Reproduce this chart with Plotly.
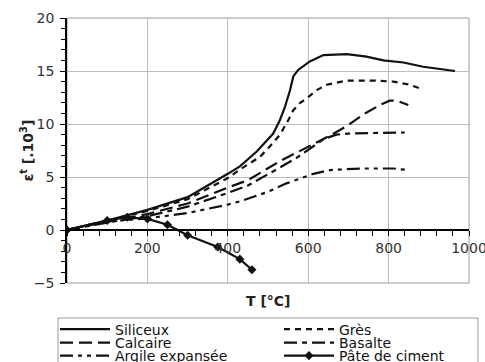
import plotly.graph_objects as go

# ---- data ----
t_siliceux = [0, 100, 200, 300, 400, 430, 472, 513, 530, 542, 555, 563, 575, 604, 638, 696, 745, 787, 837, 886, 965]
e_siliceux = [0, 0.9, 1.9, 3.1, 5.3, 6.0, 7.4, 9.1, 10.4, 11.6, 13.2, 14.5, 15.1, 15.9, 16.5, 16.6, 16.35, 16.0, 15.8, 15.4, 15.0]

t_gres = [0, 100, 200, 300, 400, 430, 480, 505, 530, 551, 563, 580, 596, 621, 646, 696, 762, 812, 853, 882]
e_gres = [0, 0.9, 1.8, 2.9, 4.9, 5.7, 6.9, 7.9, 9.0, 10.4, 11.3, 12.0, 12.4, 13.2, 13.7, 14.1, 14.1, 14.0, 13.7, 13.3]

t_calcaire = [0, 100, 200, 300, 400, 450, 530, 571, 613, 654, 696, 737, 779, 803, 820, 849]
e_calcaire = [0, 0.8, 1.5, 2.5, 4.0, 4.7, 6.5, 7.3, 8.1, 8.9, 9.8, 10.9, 11.8, 12.2, 12.2, 11.8]

t_basalte = [0, 100, 200, 300, 400, 450, 530, 571, 613, 640, 670, 700, 760, 820, 840]
e_basalte = [0, 0.7, 1.3, 2.2, 3.5, 4.2, 5.9, 6.8, 7.9, 8.6, 9.0, 9.1, 9.15, 9.2, 9.2]

t_argile = [0, 100, 200, 300, 400, 430, 500, 546, 613, 654, 729, 812, 850]
e_argile = [0, 0.8, 1.1, 1.6, 2.4, 2.7, 3.6, 4.4, 5.3, 5.65, 5.8, 5.8, 5.65]

t_pate = [0, 100, 150, 200, 250, 300, 375, 430, 460]
e_pate = [0, 0.9, 1.2, 1.05, 0.5, -0.5, -1.6, -2.75, -3.75]

x_ticks = [0, 200, 400, 600, 800, 1000]
y_ticks = [-5, 0, 5, 10, 15, 20]

names = ["Siliceux", "Grès", "Calcaire", "Basalte", "Argile expansée", "Pâte de ciment"]

L, R, T, B = 67, 16, 18, 79
W, H = 485, 362
pw, ph = W - L - R, H - T - B

def px_x(px):
    return (px - L) / pw

def px_y(py):
    return (H - B - py) / ph

fig = go.Figure()
lw = 2.2
col = "#111111"
fig.add_trace(go.Scatter(x=t_siliceux, y=e_siliceux, name=names[0], mode="lines",
                         line=dict(color=col, width=lw), legend="legend"))
fig.add_trace(go.Scatter(x=t_gres, y=e_gres, name=names[1], mode="lines",
                         line=dict(color=col, width=lw, dash="6px,5px"), legend="legend2"))
fig.add_trace(go.Scatter(x=t_calcaire, y=e_calcaire, name=names[2], mode="lines",
                         line=dict(color=col, width=lw, dash="13px,6px"), legend="legend3"))
fig.add_trace(go.Scatter(x=t_basalte, y=e_basalte, name=names[3], mode="lines",
                         line=dict(color=col, width=lw, dash="13px,5px,5px,5px"), legend="legend4"))
fig.add_trace(go.Scatter(x=t_argile, y=e_argile, name=names[4], mode="lines",
                         line=dict(color=col, width=lw, dash="13px,5px,4px,5px,4px,5px"), legend="legend5"))
fig.add_trace(go.Scatter(x=t_pate, y=e_pate, name=names[5], mode="lines+markers",
                         line=dict(color=col, width=lw),
                         marker=dict(symbol="diamond", size=7, color=col), legend="legend6"))

leg_common = dict(orientation="v", xanchor="left", yanchor="middle", itemwidth=50,
                  font=dict(family="DejaVu Sans", size=14, color="#111"),
                  bgcolor="rgba(0,0,0,0)", borderwidth=0)
col_x = [px_x(55), px_x(279)]
row_y = [px_y(329.5), px_y(343), px_y(356)]

fig.update_layout(
    width=W, height=H,
    margin=dict(l=L, r=R, t=T, b=B, autoexpand=False),
    plot_bgcolor="white", paper_bgcolor="white",
    font=dict(family="DejaVu Sans", size=14, color="#333"),
    xaxis=dict(range=[0, 1000], tickvals=x_ticks, anchor="free", position=0.2,
               showline=True, linecolor="black", linewidth=1.5,
               ticks="outside", ticklen=5, tickcolor="black", tickwidth=1,
               ticklabeloverflow="allow",
               minor=dict(dtick=40, ticks="outside", ticklen=5, tickcolor="black", showgrid=False),
               showgrid=True, gridcolor="#bdbdbd", gridwidth=1, zeroline=False, automargin=False),
    yaxis=dict(range=[-5, 20], tickvals=y_ticks,
               showline=True, linecolor="black", linewidth=1.5,
               ticks="outside", ticklen=5, tickcolor="black", tickwidth=1,
               ticklabelstandoff=3,
               minor=dict(dtick=1, ticks="outside", ticklen=4, tickcolor="black", showgrid=False),
               showgrid=True, gridcolor="#bdbdbd", gridwidth=1, zeroline=False, automargin=False),
    showlegend=True,
    legend=dict(**leg_common, x=col_x[0], y=row_y[0]),
    legend2=dict(**leg_common, x=col_x[1], y=row_y[0]),
    legend3=dict(**leg_common, x=col_x[0], y=row_y[1]),
    legend4=dict(**leg_common, x=col_x[1], y=row_y[1]),
    legend5=dict(**leg_common, x=col_x[0], y=row_y[2]),
    legend6=dict(**leg_common, x=col_x[1], y=row_y[2]),
    shapes=[
        dict(type="rect", xref="x domain", yref="y domain", x0=0, x1=1, y0=0, y1=1,
             line=dict(color="#9a9a9a", width=1), layer="below"),
        dict(type="rect", xref="paper", yref="paper", x0=px_x(58), x1=px_x(478),
             y0=px_y(375), y1=px_y(318), line=dict(color="#9a9a9a", width=1)),
    ],
    annotations=[
        dict(text="<b>T [°C]</b>", xref="paper", yref="paper", x=0.5, y=px_y(301),
             xanchor="center", yanchor="middle", showarrow=False,
             font=dict(family="DejaVu Sans", size=14, color="#222")),
        dict(text="<b>ε<sup>t</sup> [.10<sup>3</sup>]</b>", xref="paper", yref="paper",
             x=px_x(27), y=0.5, xanchor="center", yanchor="middle", textangle=-90,
             showarrow=False, font=dict(family="DejaVu Sans", size=14, color="#222")),
    ],
)

fig.write_html("out.html")
